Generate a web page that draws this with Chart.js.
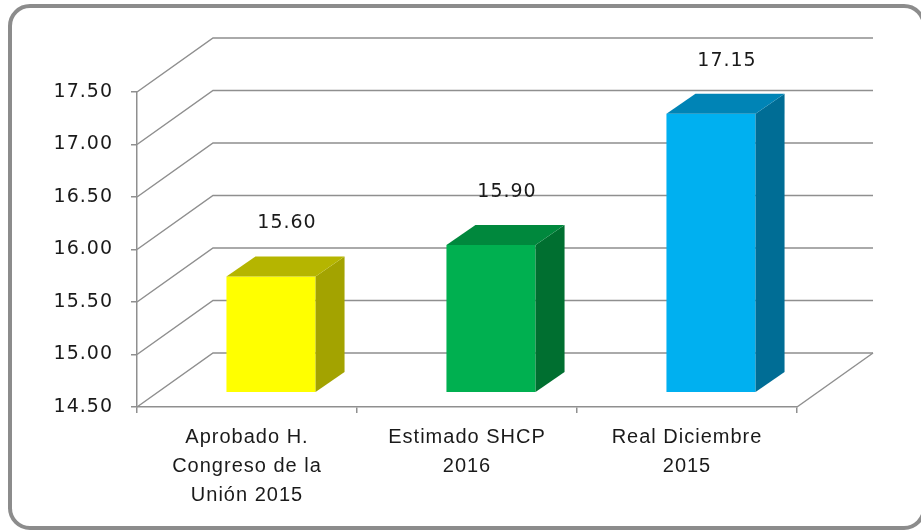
<!DOCTYPE html>
<html>
<head>
<meta charset="utf-8">
<script src="https://cdn.jsdelivr.net/npm/chart.js@4"></script>
<style>
  html, body { margin: 0; padding: 0; background: #fff; }
  #wrap { position: relative; width: 921px; height: 531px; overflow: hidden; }
  #frame {
    position: absolute; left: 8px; top: 4px; width: 918px; height: 526px;
    box-sizing: border-box; border: 4px solid #8c8c8c; border-radius: 22px;
  }
  #chart { position: absolute; left: 0; top: 0; }
</style>
</head>
<body>
<div id="wrap">
  <div id="frame"></div>
  <canvas id="chart" width="921" height="531"></canvas>
</div>
<script>
  // --- Datos ------------------------------------------------------------------
  var categories = [
    ["Aprobado H.", "Congreso de la", "Unión 2015"],
    ["Estimado SHCP", "2016"],
    ["Real Diciembre", "2015"]
  ];
  var values = [15.60, 15.90, 17.15];
  var yMin = 14.5, yMax = 17.5, yStep = 0.5;

  // --- Estilo -----------------------------------------------------------------
  var frontColors = ["#ffff00", "#00b050", "#00b0f0"];
  var topColors = ["#b5b500", "#00883d", "#0084b6"];
  var sideColors = ["#a3a300", "#006f30", "#006d95"];
  var GRID = "#8f8f8f";

  // perspectiva: fondo de las paredes, desplazamiento y profundidad de barras
  var WALL = { dx: 76, dy: -54 };
  var SHIFT = { dx: 24, dy: -15 };
  var DEPTH = { dx: 29, dy: -20 };

  function poly(ctx, pts, fill) {
    ctx.beginPath();
    ctx.moveTo(pts[0][0], pts[0][1]);
    for (var i = 1; i < pts.length; i++) ctx.lineTo(pts[i][0], pts[i][1]);
    ctx.closePath();
    ctx.fillStyle = fill;
    ctx.fill();
  }

  // paredes (izquierda, fondo, piso) y caras laterales/superiores de las barras
  var box3d = {
    id: "box3d",
    beforeDraw: function (chart) { chart.ctx.letterSpacing = "1px"; },
    beforeDatasetsDraw: function (chart) {
      var ctx = chart.ctx, a = chart.chartArea, y = chart.scales.y;
      ctx.save();
      ctx.strokeStyle = GRID;
      ctx.lineWidth = 1.5;
      y.ticks.forEach(function (t) {
        var py = y.getPixelForValue(t.value);
        ctx.beginPath();
        ctx.moveTo(a.left, py);
        ctx.lineTo(a.left + WALL.dx, py + WALL.dy);
        ctx.lineTo(a.right + WALL.dx, py + WALL.dy);
        ctx.stroke();
      });
      ctx.beginPath();
      ctx.moveTo(a.right, a.bottom);
      ctx.lineTo(a.right + WALL.dx, a.bottom + WALL.dy);
      ctx.stroke();
      ctx.restore();
      ctx.save();
      ctx.translate(SHIFT.dx, SHIFT.dy);
    },
    afterDatasetsDraw: function (chart) {
      var ctx = chart.ctx, a = chart.chartArea;
      ctx.restore();
      var meta = chart.getDatasetMeta(0);
      ctx.save();
      meta.data.forEach(function (el, i) {
        var p = el.getProps(["x", "y", "base", "width"], true);
        var x1 = p.x - p.width / 2 + SHIFT.dx, x2 = p.x + p.width / 2 + SHIFT.dx;
        var yt = p.y + SHIFT.dy, yb = Math.min(p.base, a.bottom) + SHIFT.dy;
        poly(ctx, [[x2, yt], [x2 + DEPTH.dx, yt + DEPTH.dy], [x2 + DEPTH.dx, yb + DEPTH.dy], [x2, yb]], sideColors[i]);
        poly(ctx, [[x1, yt], [x1 + DEPTH.dx, yt + DEPTH.dy], [x2 + DEPTH.dx, yt + DEPTH.dy], [x2, yt]], topColors[i]);
        ctx.font = "19px 'DejaVu Sans'";
        ctx.fillStyle = "#1a1a1a";
        ctx.textAlign = "center";
        ctx.textBaseline = "middle";
        ctx.fillText(values[i].toFixed(2), p.x + SHIFT.dx + 16, yt - 53);
      });
      ctx.restore();
    }
  };

  new Chart(document.getElementById("chart"), {
    type: "bar",
    data: {
      labels: categories,
      datasets: [{
        data: values,
        backgroundColor: frontColors,
        borderWidth: 0,
        categoryPercentage: 1,
        barPercentage: 0.405
      }]
    },
    options: {
      responsive: false,
      animation: false,
      events: [],
      layout: { padding: { left: 0, top: 92, right: 124, bottom: 0 } },
      plugins: { legend: { display: false }, tooltip: { enabled: false } },
      scales: {
        x: {
          afterFit: function (s) { s.height = 124; },
          grid: { drawOnChartArea: false, color: GRID, lineWidth: 1.5, tickLength: 6 },
          border: { color: GRID, width: 1.5 },
          ticks: {
            color: "#1a1a1a", padding: 10, maxRotation: 0, autoSkip: false,
            font: { family: "'Liberation Sans'", size: 20, lineHeight: 1.45 }
          }
        },
        y: {
          min: yMin, max: yMax,
          afterFit: function (s) { s.width = 137; },
          grid: { drawOnChartArea: false, color: GRID, lineWidth: 1.5, tickLength: 6 },
          border: { color: GRID, width: 1.5 },
          ticks: {
            stepSize: yStep, color: "#1a1a1a", padding: 18,
            font: { family: "'DejaVu Sans'", size: 19 },
            callback: function (v) { return Number(v).toFixed(2); }
          }
        }
      }
    },
    plugins: [box3d]
  });
</script>
</body>
</html>
